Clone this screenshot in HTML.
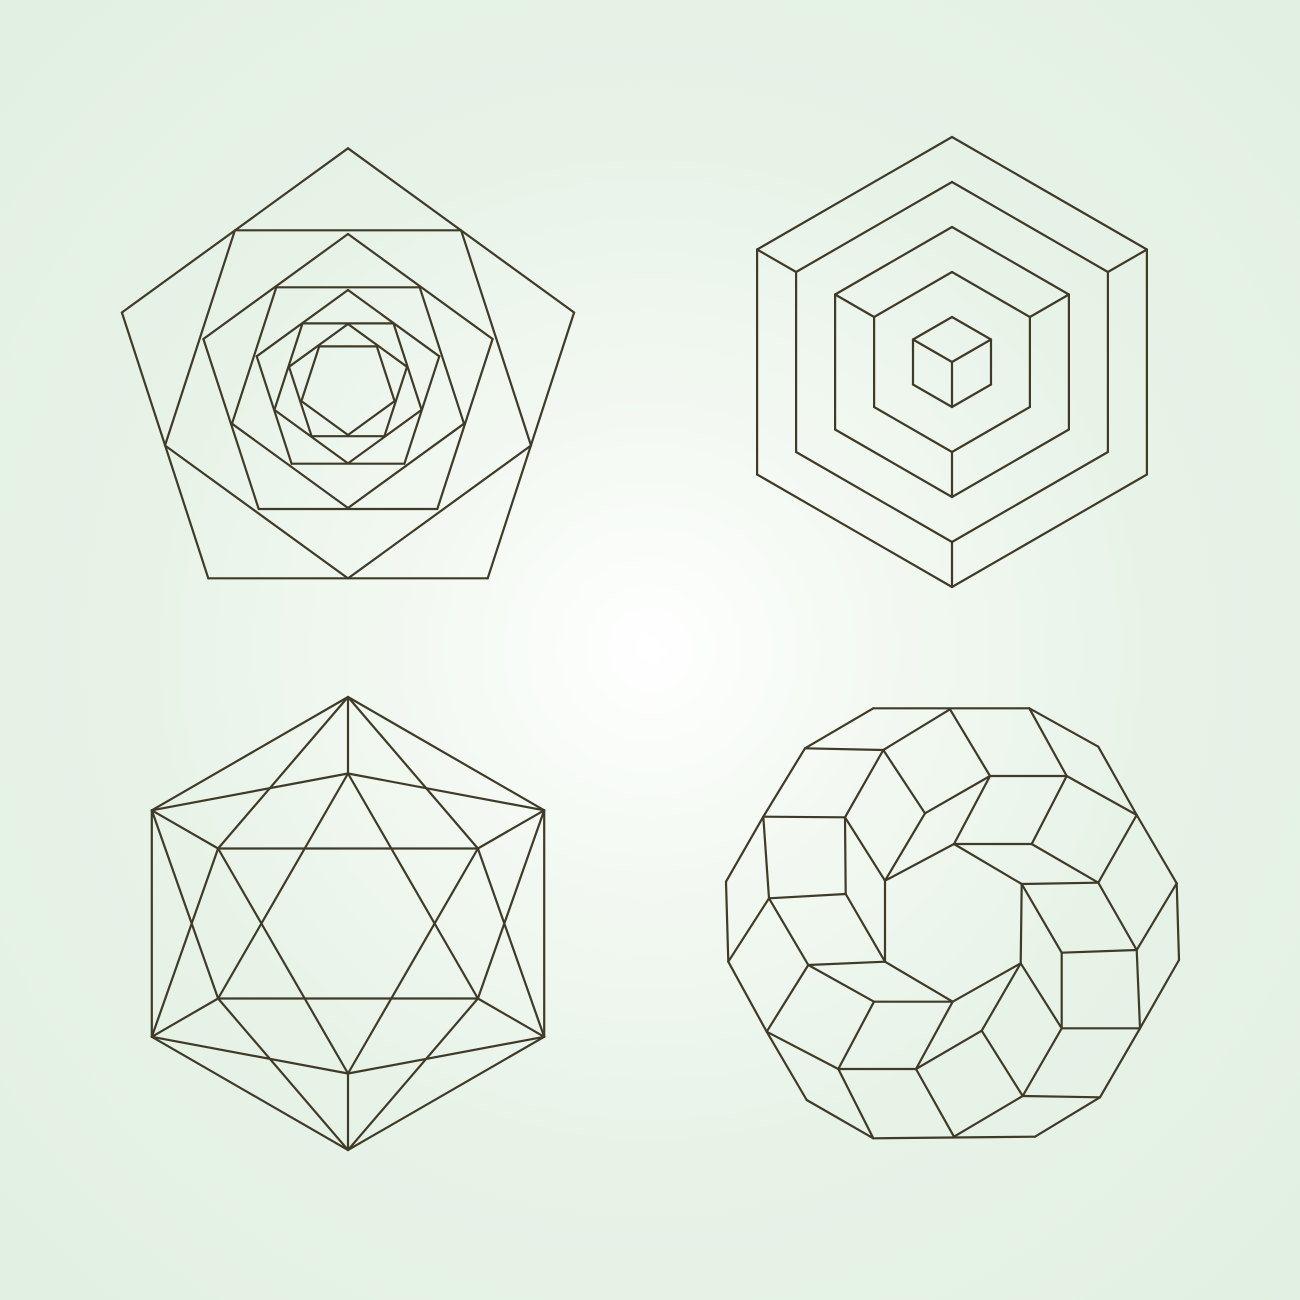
<!DOCTYPE html>
<html><head><meta charset="utf-8"><style>
html,body{margin:0;padding:0}
body{width:1300px;height:1300px;overflow:hidden;background:radial-gradient(circle at 50% 50%,#ffffff 0%,#f3f9f2 25%,#e8f3e8 55%,#e1f0e2 100%);font-family:"Liberation Sans",sans-serif}
svg{position:absolute;left:0;top:0}
line{stroke:#3f3b28;stroke-width:2.2;stroke-linecap:round}
</style></head><body>
<svg id="art" width="1300" height="1300">
<g id="pent"></g>
<g id="cube"></g>
<g id="star"></g>
<g id="torus"></g>
</svg>
<script>
const pentRadii=[237.7,192.4,152,122,96,77.4,62,49];
const cubeRadii=[225,180,135,90,45];
const cubeLinks=[[225,180],[135,90],[45,0]];
const torusPts={A:[520,55],B:[988,55],C:[1195,170],D:[1310,375],E:[1430,580],F:[1437,810],G:[1320,1015],H:[1200,1222],I:[1005,1340],J:[520,1345],K:[320,1230],L:[200,1025],M:[85,815],N:[78,575],O:[190,380],P:[315,175],
p1:[750,58],p2:[550,180],p4:[870,258],p5:[1100,258],p6:[675,370],p7:[435,382],p9:[762,462],p10:[995,462],p11:[555,572],p12:[1195,578],p13:[965,582],p14:[207,625],p15:[437,612],p17:[1310,780],p18:[1085,788],p19:[325,825],p20:[555,815],p21:[962,820],p22:[758,935],p23:[522,935],p24:[1085,1015],p26:[845,1022],p28:[415,1137],p29:[648,1137],p30:[968,1218],p33:[762,1340]};
const torusEdges=[["A","B"],["B","C"],["C","D"],["D","E"],["E","F"],["F","G"],["G","H"],["H","I"],["I","J"],["J","K"],["K","L"],["L","M"],["M","N"],["N","O"],["O","P"],["P","A"],
["P","p2"],["p2","p1"],["p2","p7"],["p2","p6"],["p1","p4"],["p4","p6"],["p4","p5"],["p4","p9"],["p6","p11"],["p7","p11"],["O","p7"],["p7","p15"],["O","p14"],["p14","p15"],["p15","p20"],["p11","p20"],
["B","p5"],["p5","D"],["p5","p10"],["p9","p10"],["p10","p12"],["p9","p13"],["p13","p12"],["D","p12"],["p12","p17"],["p13","p18"],["p18","p17"],["E","p17"],["p17","G"],["p18","p24"],["p24","G"],
["p13","p21"],["p21","p24"],["p21","p26"],["p21","p22"],["p26","p30"],["p24","p30"],["p30","H"],["p30","p33"],["p26","p29"],["p22","p29"],["p29","p33"],["p28","p29"],["p28","J"],["p28","L"],["p28","p23"],["p23","p22"],["p23","p19"],["p19","p20"],["p20","p22"],["p19","L"],["p19","p14"],["p14","M"],["p11","p9"]];
const NS="http://www.w3.org/2000/svg";
function ln(g,a,b,name){const l=document.createElementNS(NS,"line");
l.setAttribute("x1",a[0].toFixed(1));l.setAttribute("y1",a[1].toFixed(1));l.setAttribute("x2",b[0].toFixed(1));l.setAttribute("y2",b[1].toFixed(1));


g.appendChild(l);}
function poly(g,pts,name){for(let i=0;i<pts.length;i++)ln(g,pts[i],pts[(i+1)%pts.length],name);}
// pentagons
(function(){const g=document.getElementById("pent"),cx=348,cy=386;
pentRadii.forEach((R,i)=>{const off=i%2?Math.PI/2:-Math.PI/2;const pts=[];
for(let k=0;k<5;k++){const a=off+k*2*Math.PI/5;pts.push([cx+R*Math.cos(a),cy+R*Math.sin(a)]);}
poly(g,pts,"pentagon-edge");});})();
// cubes
(function(){const g=document.getElementById("cube"),cx=952,cy=362;
const dir=a=>[Math.cos(a),Math.sin(a)];
const hex=R=>{const p=[];for(let k=0;k<6;k++){const a=-Math.PI/2+k*Math.PI/3;p.push([cx+R*Math.cos(a),cy+R*Math.sin(a)]);}return p;};
cubeRadii.forEach(R=>poly(g,hex(R),"hexagon-edge"));
const dirs=[-5*Math.PI/6,-Math.PI/6,Math.PI/2];
cubeLinks.forEach(([r1,r2])=>dirs.forEach(a=>{const d=dir(a);ln(g,[cx+r1*d[0],cy+r1*d[1]],[cx+r2*d[0],cy+r2*d[1]],"cube-connector");}));})();
// star polyhedron
(function(){const g=document.getElementById("star"),cx=348,cy=923.5,R=226.5,r=150;
const O=[],I=[];for(let k=0;k<6;k++){const a=-Math.PI/2+k*Math.PI/3;O.push([cx+R*Math.cos(a),cy+R*Math.sin(a)]);I.push([cx+r*Math.cos(a),cy+r*Math.sin(a)]);}
poly(g,O,"outer-edge");
poly(g,[I[0],I[2],I[4]],"triangle-edge");poly(g,[I[1],I[3],I[5]],"triangle-edge");
for(let k=0;k<6;k++){ln(g,O[k],I[k],"spoke");ln(g,O[k],I[(k+1)%6],"spoke");ln(g,O[k],I[(k+5)%6],"spoke");}})();
// torus
(function(){const g=document.getElementById("torus");const T=p=>[700+p[0]/3,690+p[1]/3];
torusEdges.forEach(([a,b])=>ln(g,T(torusPts[a]),T(torusPts[b]),"rhombus-edge"));})();
</script>
</body></html>
